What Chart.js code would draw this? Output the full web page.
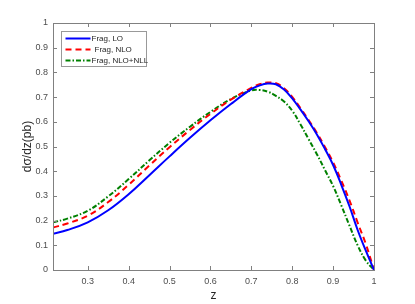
<!DOCTYPE html>
<html>
<head>
<meta charset="utf-8">
<script src="https://cdn.jsdelivr.net/npm/chart.js@4"></script>
<style>
  html, body { margin: 0; padding: 0; background: #fff; }
  #wrap { width: 415px; height: 304px; }
</style>
</head>
<body>
<div id="wrap"><canvas id="fragChart" width="415" height="304"></canvas></div>
<script>
// values
var zVals = [0.215, 0.25, 0.3, 0.35, 0.4, 0.45, 0.5, 0.55, 0.6, 0.65, 0.7, 0.72, 0.74, 0.76, 0.78, 0.8, 0.82, 0.84, 0.86, 0.88, 0.9, 0.92, 0.94, 0.96, 0.98, 1.0];
var fragLO     = [0.147, 0.162, 0.193, 0.242, 0.307, 0.383, 0.460, 0.535, 0.606, 0.672, 0.732, 0.747, 0.755, 0.752, 0.731, 0.695, 0.650, 0.602, 0.550, 0.490, 0.425, 0.345, 0.258, 0.162, 0.078, 0];
var fragNLO    = [0.172, 0.188, 0.220, 0.275, 0.345, 0.422, 0.497, 0.567, 0.632, 0.690, 0.737, 0.752, 0.759, 0.756, 0.736, 0.701, 0.656, 0.607, 0.556, 0.498, 0.436, 0.362, 0.282, 0.192, 0.105, 0];
var fragNLONLL = [0.193, 0.208, 0.240, 0.298, 0.368, 0.443, 0.515, 0.580, 0.640, 0.692, 0.727, 0.729, 0.722, 0.705, 0.682, 0.645, 0.590, 0.530, 0.470, 0.405, 0.340, 0.262, 0.180, 0.100, 0.038, 0];
var seriesNames = ['Frag, LO', 'Frag, NLO', 'Frag, NLO+NLL'];
var xTicks = [0.3, 0.4, 0.5, 0.6, 0.7, 0.8, 0.9, 1];
var yTicks = [0, 0.1, 0.2, 0.3, 0.4, 0.5, 0.6, 0.7, 0.8, 0.9, 1];

var axisGray = '#808080';
var textGray = '#4d4d4d';
var fontFam = '"Liberation Sans", Arial, sans-serif';

function pts(ys) {
  return zVals.map(function(z, i) { return { x: z, y: ys[i] }; });
}

var styles = [
  { color: '#0000ff', dash: [] },
  { color: '#ff0000', dash: [6, 4] },
  { color: '#008000', dash: [5, 2, 1.5, 2] }
];
var allSeries = [fragLO, fragNLO, fragNLONLL];

var datasets = allSeries.map(function(s, i) {
  return {
    label: seriesNames[i],
    data: pts(s),
    borderColor: styles[i].color,
    borderDash: styles[i].dash,
    borderWidth: 2,
    pointRadius: 0,
    fill: false,
    tension: 0.4
  };
});

// box, inward ticks and legend like the matlab figure
var boxPlugin = {
  id: 'boxPlugin',
  afterDraw: function(chart) {
    var ctx = chart.ctx;
    var a = chart.chartArea;
    var xs = chart.scales.x, ys = chart.scales.y;
    ctx.save();
    ctx.strokeStyle = axisGray;
    ctx.lineWidth = 1;
    ctx.setLineDash([]);
    ctx.strokeRect(Math.round(a.left) + 0.5, Math.round(a.top) + 0.5,
                   Math.round(a.right - a.left), Math.round(a.bottom - a.top));
    ctx.beginPath();
    xTicks.forEach(function(v) {
      var px = Math.round(xs.getPixelForValue(v)) + 0.5;
      ctx.moveTo(px, a.bottom); ctx.lineTo(px, a.bottom - 4);
      ctx.moveTo(px, a.top); ctx.lineTo(px, a.top + 4);
    });
    yTicks.forEach(function(v) {
      var py = Math.round(ys.getPixelForValue(v)) + 0.5;
      ctx.moveTo(a.left, py); ctx.lineTo(a.left + 4, py);
      ctx.moveTo(a.right, py); ctx.lineTo(a.right - 4, py);
    });
    ctx.stroke();

    // legend
    var lx = 61.5, ly = 31.5, lw = 85, lh = 35;
    ctx.fillStyle = '#fff';
    ctx.fillRect(lx, ly, lw, lh);
    ctx.strokeStyle = '#999';
    ctx.strokeRect(lx, ly, lw, lh);
    ctx.font = '8px ' + fontFam;
    ctx.textBaseline = 'middle';
    ctx.fillStyle = '#262626';
    seriesNames.forEach(function(name, i) {
      var yy = ly + 7 + i * 11;
      ctx.strokeStyle = styles[i].color;
      ctx.lineWidth = 2;
      ctx.setLineDash(styles[i].dash);
      ctx.beginPath();
      ctx.moveTo(lx + 4, yy); ctx.lineTo(lx + 29, yy);
      ctx.stroke();
      ctx.fillText(name, lx + (i == 1 ? 33 : 30), yy);
    });
    ctx.restore();
  }
};

var chart = new Chart(document.getElementById('fragChart').getContext('2d'), {
  type: 'line',
  data: { datasets: datasets },
  options: {
    responsive: false,
    animation: false,
    layout: { padding: { left: 0, right: 41, top: 23, bottom: 0 } },
    plugins: { legend: { display: false }, tooltip: { enabled: false } },
    scales: {
      x: {
        type: 'linear',
        min: 0.215,
        max: 1,
        afterBuildTicks: function(scale) {
          scale.ticks = xTicks.map(function(v) { return { value: v }; });
        },
        afterFit: function(scale) { scale.height = 34; },
        grid: { display: false, drawTicks: false },
        border: { display: false },
        ticks: {
          color: textGray, padding: 6, maxRotation: 0,
          font: { family: fontFam, size: 9 },
          callback: function(v) { return String(Math.round(v * 10) / 10); }
        },
        title: {
          display: true, text: 'z', color: '#262626', padding: { top: 0, bottom: 1 },
          font: { family: fontFam, size: 12 }
        }
      },
      y: {
        min: 0,
        max: 1,
        afterBuildTicks: function(scale) {
          scale.ticks = yTicks.map(function(v) { return { value: v }; });
        },
        afterFit: function(scale) { scale.width = 53; },
        grid: { display: false, drawTicks: false },
        border: { display: false },
        ticks: {
          color: textGray, padding: 5,
          font: { family: fontFam, size: 9 },
          callback: function(v) { return String(Math.round(v * 10) / 10); }
        },
        title: {
          display: true, text: 'dσ/dz(pb)', color: '#262626', padding: { top: 20, bottom: 0 },
          font: { family: fontFam, size: 12 }
        }
      }
    }
  },
  plugins: [boxPlugin]
});
</script>
</body>
</html>
